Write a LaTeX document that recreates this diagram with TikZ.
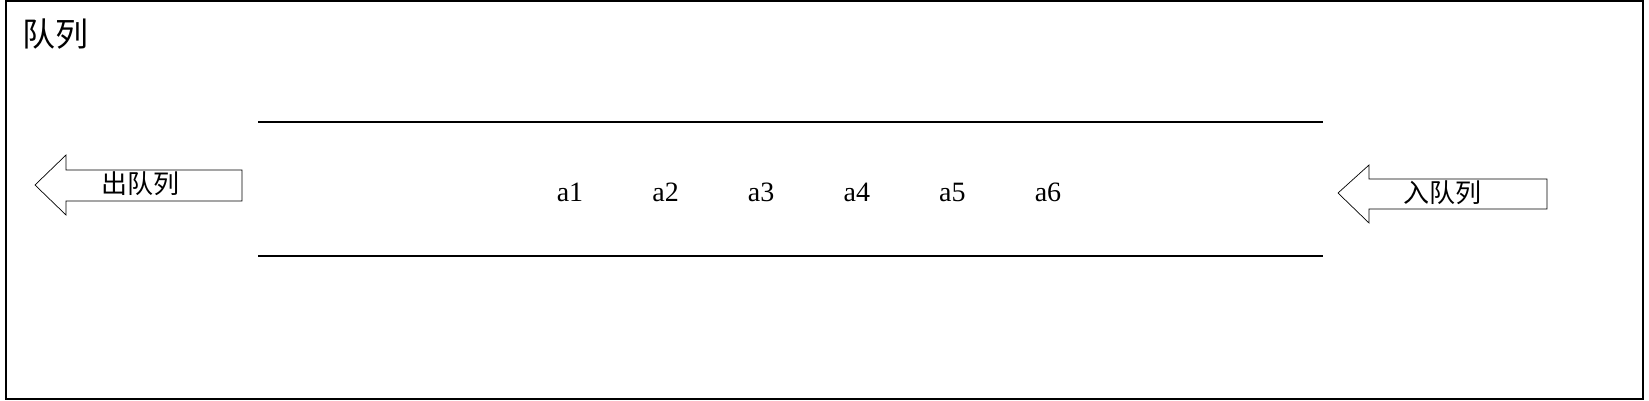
\documentclass[tikz,border=0pt]{standalone}
\usepackage{fontspec}
\newfontfamily\cjk{Noto Sans CJK SC}
\newfontfamily\elemfont{Liberation Serif}
\usetikzlibrary{positioning}
\begin{document}
\begin{tikzpicture}[x=1pt,y=-1pt,
    cjktext/.style={font=\cjk\fontsize{26}{26}\selectfont,inner sep=0pt},
    elem/.style={font=\elemfont\fontsize{28}{28}\selectfont,inner sep=0pt},
    qarrow/.style={draw,line width=0.7pt,fill=white},
    qline/.style={line width=1.6pt}]
  \useasboundingbox (0,0) rectangle (1649,401);
  \draw[line width=1.6pt] (6,1) rectangle (1643,399);
  \node[font=\cjk\fontsize{33}{33}\selectfont,inner sep=0pt] (title) at (56,34) {队列};
  % queue body
  \coordinate (qtl) at (258,122);\coordinate (qtr) at (1323,122);
  \coordinate (qbl) at (258,256);\coordinate (qbr) at (1323,256);
  \draw[qline] (qtl)--(qtr);
  \draw[qline] (qbl)--(qbr);
  \foreach \i in {1,...,6}{
    \node[elem] (a\i) at ({570+95.6*(\i-1)},192.5) {a\i};}
  % dequeue arrow
  \draw[qarrow] (35,185)--(66,155)--(66,170)--(242,170)--(242,201)
    --(66,201)--(66,215)--cycle;
  \node[cjktext] (deq) at (140,184) {出队列};
  % enqueue arrow
  \draw[qarrow] (1338,193)--(1369,165)--(1369,179)--(1547,179)--(1547,209)
    --(1369,209)--(1369,223)--cycle;
  \node[cjktext] (enq) at (1442,193) {入队列};
\end{tikzpicture}
\end{document}
